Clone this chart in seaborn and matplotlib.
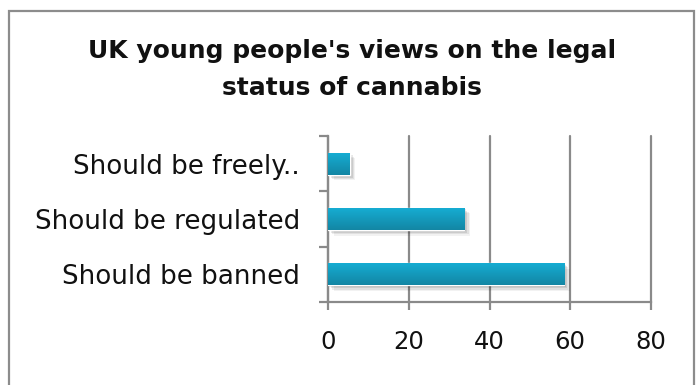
import numpy as np
import pandas as pd
import matplotlib
matplotlib.use("Agg")
import matplotlib.pyplot as plt
import matplotlib.patheffects as pe
from matplotlib.patches import Rectangle
from matplotlib.colors import LinearSegmentedColormap
import seaborn as sns

# Survey responses (percent of respondents)
categories = ["Should be freely..", "Should be regulated", "Should be banned"]
percentages = [5.4, 33.8, 58.5]
x_ticks = [0, 20, 40, 60, 80]

title = "UK young people's views on the legal\nstatus of cannabis"

sns.set_theme(style="white")
plt.rcParams["font.family"] = ["DejaVu Sans"]

df = pd.DataFrame({"view": categories, "pct": percentages})

W, H = 698, 385
fig = plt.figure(figsize=(W / 100, H / 100), dpi=100)
ax = fig.add_axes([328 / W, 1 - 302 / H, (651 - 328) / W, (302 - 136) / H])

grey = "#8a8a8a"
top_col = "#16aed4"
bot_col = "#1386a4"

sns.barplot(data=df, x="pct", y="view", orient="h", width=0.4,
            color=top_col, saturation=1, ax=ax, zorder=3)

ax.set_xlim(0, 80)
ax.set_ylim(2.5, -0.5)
ax.set_xticks(x_ticks)
ax.set_xticklabels([str(t) for t in x_ticks])
ax.set_xlabel("")
ax.set_ylabel("")

# vertical gridlines
ax.xaxis.grid(True, color=grey, linewidth=1.6, zorder=0)
ax.yaxis.grid(False)
ax.set_axisbelow(True)
for gl in ax.get_xgridlines():
    gl.set_clip_on(False)

for side in ("top", "right"):
    ax.spines[side].set_visible(False)
for side in ("left", "bottom"):
    ax.spines[side].set_color(grey)
    ax.spines[side].set_linewidth(1.6)

# category boundary ticks on the y axis
ax.set_yticks([-0.5, 0.5, 1.5, 2.5], minor=True)
ax.tick_params(axis="y", which="minor", left=True, length=6.5, width=1.6, color=grey)
ax.tick_params(axis="y", which="major", left=True, length=0, pad=20,
               labelsize=18.8, labelcolor="#111111")
ax.tick_params(axis="x", which="major", bottom=True, length=6, width=1.6, color=grey,
               pad=14.5, labelsize=17.5, labelcolor="#111111")

# gradient fill and soft shadow on each bar
cmap = LinearSegmentedColormap.from_list("bar", [top_col, bot_col])
grad = np.linspace(0, 1, 64).reshape(-1, 1)
for patch in ax.patches:
    patch.set_path_effects([
        pe.SimplePatchShadow(offset=(4, -4), shadow_rgbFace="#000000", alpha=0.05),
        pe.SimplePatchShadow(offset=(3, -3), shadow_rgbFace="#000000", alpha=0.07),
        pe.SimplePatchShadow(offset=(2, -2), shadow_rgbFace="#000000", alpha=0.09),
        pe.SimplePatchShadow(offset=(1, -1), shadow_rgbFace="#000000", alpha=0.10),
        pe.Normal(),
    ])
    x0, y0 = patch.get_x(), patch.get_y()
    w, h = patch.get_width(), patch.get_height()
    im = ax.imshow(grad, cmap=cmap, aspect="auto", interpolation="bicubic",
                   extent=(x0, x0 + w, y0 + h, y0), origin="upper", zorder=4)
    im.set_clip_path(patch)

ax.set_xlim(0, 80)
ax.set_ylim(2.5, -0.5)

fig.text(352 / W, 1 - 69.5 / H, title, ha="center", va="center",
         fontsize=18, fontweight="bold", color="#111111", linespacing=1.72)

# chart frame
fig.patches.append(Rectangle((9 / W, -0.05), (694 - 9) / W, 1.05 - 11 / H,
                             transform=fig.transFigure, fill=False,
                             edgecolor="#8c8c8c", linewidth=1.6))

fig.savefig("out.png", dpi=100)
